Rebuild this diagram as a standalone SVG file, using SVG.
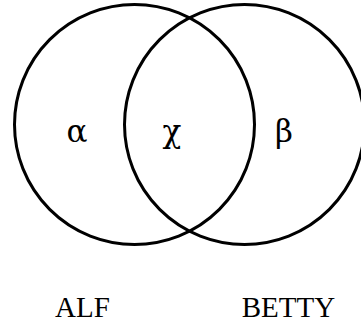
<svg xmlns="http://www.w3.org/2000/svg" width="361" height="322" viewBox="0 0 361 322">
<style>
.set{fill:none;stroke:#000;stroke-width:3}
text{font-family:"Liberation Serif","Times New Roman",serif;fill:#000;text-anchor:middle}
.g{font-family:"DejaVu Serif",serif;font-size:31px}
.l{font-size:29px}
</style>
<rect width="361" height="322" fill="#fff"/>
<g id="alf"><circle class="set" cx="134.5" cy="124.5" r="120"/></g>
<g id="betty"><circle class="set" cx="244.5" cy="124.5" r="120"/></g>
<g id="labels">
<text class="g" x="77" y="142">α</text>
<text class="g" x="172" y="142">χ</text>
<text class="g" x="284" y="142">β</text>
<text class="l" x="82.5" y="317">ALF</text>
<text class="l" x="288.5" y="317">BETTY</text>
</g>
<g id="connectors"/>
</svg>
